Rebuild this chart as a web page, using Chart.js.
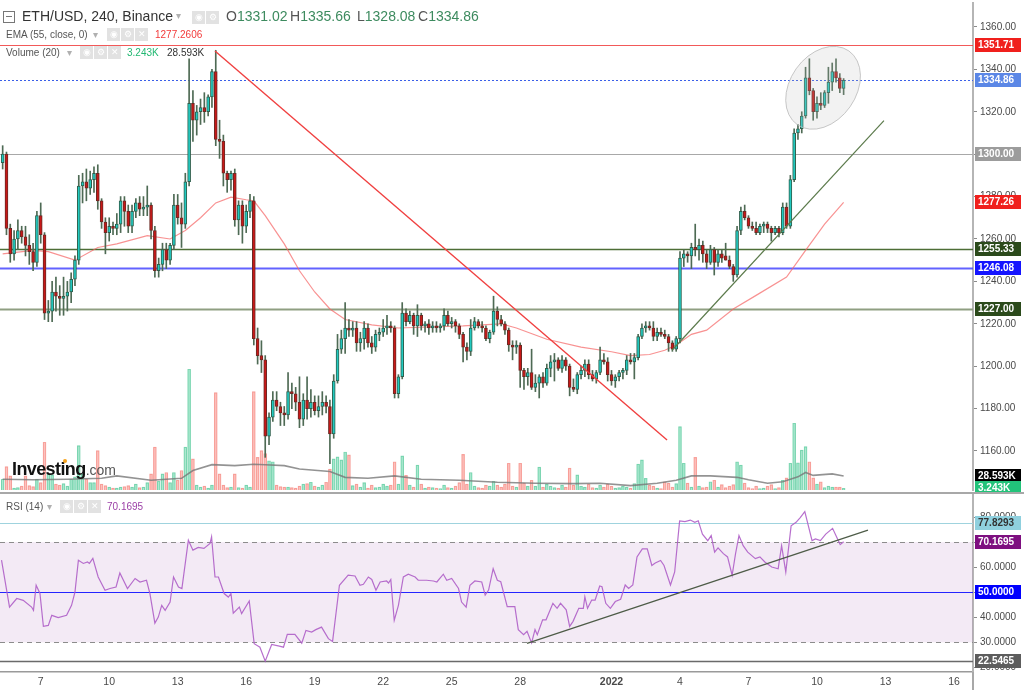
<!DOCTYPE html>
<html>
<head>
<meta charset="utf-8">
<script src="https://cdn.jsdelivr.net/npm/chart.js@4.4.0/dist/chart.umd.min.js"></script>
<style>
  body { margin:0; background:#fff; width:1024px; height:690px; overflow:hidden; position:relative;
         font-family:"Liberation Sans", Arial, sans-serif; }
  canvas { position:absolute; left:0; }
  #main { top:0; }
  #rsi { top:492px; }
  .t { position:absolute; white-space:nowrap; line-height:1; }
  .big { font-size:14px; color:#333; }
  .sm { font-size:10px; color:#555; }
  .car { color:#b0b0b0; font-size:10px; }
  .ic { position:absolute; width:13px; height:13px; background:#e2e2e2; color:#fff; font-size:9px;
        line-height:13px; text-align:center; }
  .g { color:#3d8b5f; }
  .k { color:#555; }
</style>
</head>
<body>
<canvas id="main" width="1024" height="492"></canvas>
<canvas id="rsi" width="1024" height="198"></canvas>

<!-- legend: price row -->
<div class="t" style="left:3px;top:11px;width:10px;height:10px;border:1px solid #777;"></div>
<div class="t" style="left:6px;top:16px;width:6px;height:1px;background:#777;"></div>
<div class="t big" style="left:22px;top:9px;">ETH/USD, 240, Binance</div>
<div class="t car" style="left:176px;top:11px;">▾</div>
<div class="ic" style="left:192px;top:11px;">◉</div>
<div class="ic" style="left:206px;top:11px;">⚙</div>
<div class="t big" style="left:226px;top:9px;"><span class="k">O</span><span class="g">1331.02</span></div>
<div class="t big" style="left:290px;top:9px;"><span class="k">H</span><span class="g">1335.66</span></div>
<div class="t big" style="left:357px;top:9px;"><span class="k">L</span><span class="g">1328.08</span></div>
<div class="t big" style="left:418px;top:9px;"><span class="k">C</span><span class="g">1334.86</span></div>

<!-- legend: EMA row -->
<div class="t sm" style="left:6px;top:30px;">EMA (55, close, 0)</div>
<div class="t car" style="left:93px;top:30px;">▾</div>
<div class="ic" style="left:107px;top:28px;">◉</div>
<div class="ic" style="left:121px;top:28px;">⚙</div>
<div class="ic" style="left:135px;top:28px;">✕</div>
<div class="t sm" style="left:155px;top:30px;color:#f23a3a;">1277.2606</div>

<!-- legend: volume row -->
<div class="t sm" style="left:6px;top:48px;">Volume (20)</div>
<div class="t car" style="left:67px;top:48px;">▾</div>
<div class="ic" style="left:80px;top:46px;">◉</div>
<div class="ic" style="left:94px;top:46px;">⚙</div>
<div class="ic" style="left:108px;top:46px;">✕</div>
<div class="t sm" style="left:127px;top:48px;color:#22b872;">3.243K</div>
<div class="t sm" style="left:167px;top:48px;color:#333;">28.593K</div>

<!-- watermark -->
<div class="t" style="left:12px;top:460px;font-size:18px;font-weight:bold;color:#111;letter-spacing:-0.6px;">Investing<span style="font-size:14px;font-weight:normal;color:#555;letter-spacing:0;">.com</span></div>
<div class="t" style="left:63px;top:459px;width:4px;height:4px;border-radius:2px;background:#f7a21b;"></div>

<!-- legend: RSI row -->
<div class="t sm" style="left:6px;top:502px;">RSI (14)</div>
<div class="t car" style="left:47px;top:502px;">▾</div>
<div class="ic" style="left:60px;top:500px;">◉</div>
<div class="ic" style="left:74px;top:500px;">⚙</div>
<div class="ic" style="left:88px;top:500px;">✕</div>
<div class="t sm" style="left:107px;top:502px;color:#9b3fa6;">70.1695</div>

<script>
// 4h candles, index 0 = Dec 5 08:00, index 10 = Dec 7 00:00
const opens = [
  1296,1300,1265,1253,1260,1264,1261,1257,1254,1249,
  1271,1262,1225,1226,1235,1233,1232,1233,1235,1241,
  1250,1285,1287,1284,1288,1291,1278,1268,1263,1266,
  1265,1267,1278,1273,1266,1273,1277,1274,1275,1276,
  1264,1245,1248,1255,1250,1257,1276,1270,1267,1287,
  1324,1316,1320,1322,1320,1327,1339,1307,1306,1291,
  1288,1291,1269,1276,1266,1273,1278,1213,1205,1203,
  1167,1176,1184,1181,1178,1177,1188,1187,1183,1175,
  1184,1180,1183,1179,1181,1183,1181,1168,1193,1208,
  1213,1218,1217,1218,1211,1213,1218,1211,1209,1215,
  1216,1218,1219,1218,1187,1195,1225,1221,1224,1219,
  1224,1219,1220,1218,1219,1218,1219,1224,1220,1221,
  1219,1215,1209,1207,1218,1221,1219,1218,1213,1216,
  1226,1222,1220,1217,1210,1209,1210,1198,1195,1197,
  1190,1192,1195,1192,1199,1202,1203,1199,1203,1200,
  1190,1189,1196,1198,1201,1196,1194,1197,1203,1202,
  1196,1193,1195,1197,1198,1203,1202,1204,1214,1218,
  1219,1218,1214,1216,1215,1214,1211,1208,1213,1251,
  1253,1252,1256,1255,1257,1253,1249,1255,1249,1253,
  1252,1250,1247,1243,1264,1273,1270,1266,1265,1263,
  1266,1267,1265,1263,1265,1263,1275,1266,1288,1310,
  1312,1318,1336,1330,1320,1324,1323,1329,1334,1339,
  1336,1331.02
];
const highs = [
  1304,1301,1267,1264,1269,1266,1266,1262,1258,1273,
  1277,1263,1231,1240,1242,1238,1242,1240,1244,1252,
  1290,1291,1293,1292,1294,1295,1279,1270,1270,1268,
  1272,1280,1280,1276,1276,1279,1280,1280,1285,1277,
  1266,1251,1258,1258,1258,1281,1281,1277,1291,1345,
  1330,1323,1326,1329,1328,1340,1349,1316,1309,1292,
  1292,1293,1278,1278,1276,1281,1280,1218,1212,1205,
  1178,1188,1188,1183,1181,1197,1192,1190,1195,1187,
  1195,1189,1186,1186,1188,1186,1184,1196,1215,1217,
  1230,1222,1221,1221,1216,1221,1220,1214,1217,1218,
  1222,1224,1221,1219,1196,1230,1227,1226,1225,1229,
  1225,1221,1222,1221,1221,1220,1227,1226,1223,1222,
  1220,1216,1211,1222,1223,1222,1221,1219,1217,1233,
  1228,1224,1221,1218,1212,1212,1211,1199,1199,1208,
  1196,1196,1197,1201,1205,1206,1204,1205,1204,1201,
  1194,1197,1200,1203,1203,1198,1198,1209,1206,1204,
  1198,1196,1198,1199,1205,1206,1206,1215,1220,1221,
  1221,1221,1218,1218,1217,1215,1212,1214,1254,1255,
  1254,1258,1267,1260,1259,1255,1257,1256,1255,1255,
  1258,1252,1248,1266,1275,1276,1271,1268,1268,1267,
  1268,1268,1266,1266,1266,1277,1277,1290,1312,1314,
  1320,1341,1345,1331,1327,1329,1330,1341,1343,1345,
  1338,1335.66
];
const lows = [
  1293,1262,1249,1250,1255,1258,1252,1248,1245,1247,
  1258,1222,1221,1221,1226,1224,1224,1226,1230,1238,
  1248,1277,1278,1281,1282,1274,1265,1253,1259,1262,
  1262,1263,1266,1263,1263,1270,1271,1271,1271,1260,
  1242,1242,1245,1246,1248,1255,1267,1256,1265,1285,
  1306,1309,1314,1315,1318,1322,1304,1298,1285,1282,
  1283,1266,1262,1258,1263,1270,1210,1201,1197,1157,
  1163,1174,1179,1172,1172,1175,1180,1179,1171,1172,
  1175,1176,1177,1176,1177,1178,1154,1166,1192,1206,
  1206,1214,1214,1207,1207,1208,1209,1206,1207,1212,
  1214,1215,1216,1185,1185,1194,1219,1220,1215,1214,
  1217,1216,1215,1216,1216,1216,1217,1219,1218,1216,
  1213,1202,1203,1205,1217,1218,1216,1212,1211,1215,
  1219,1219,1215,1207,1203,1206,1190,1189,1191,1189,
  1188,1185,1190,1191,1195,1193,1198,1197,1198,1186,
  1188,1187,1194,1195,1194,1193,1192,1196,1201,1193,
  1191,1190,1193,1194,1196,1201,1194,1203,1213,1216,
  1217,1212,1212,1214,1213,1207,1207,1207,1211,1247,
  1249,1246,1252,1250,1249,1246,1248,1243,1247,1249,
  1250,1246,1240,1242,1262,1269,1265,1264,1262,1262,
  1263,1263,1259,1262,1261,1262,1265,1265,1287,1307,
  1310,1317,1328,1316,1317,1321,1322,1324,1330,1334,
  1329,1328.08
];
const closes = [
  1300,1265,1253,1260,1264,1261,1257,1254,1249,1271,
  1262,1225,1226,1235,1233,1232,1233,1235,1241,1250,
  1285,1287,1284,1288,1291,1278,1268,1263,1266,1265,
  1267,1278,1273,1266,1273,1277,1274,1275,1276,1264,
  1245,1248,1255,1250,1257,1276,1270,1267,1287,1324,
  1316,1320,1322,1320,1327,1339,1307,1306,1291,1288,
  1291,1269,1276,1266,1273,1278,1213,1205,1203,1167,
  1176,1184,1181,1178,1177,1188,1187,1183,1175,1184,
  1180,1183,1179,1181,1183,1181,1168,1193,1208,1213,
  1218,1217,1218,1211,1213,1218,1211,1209,1215,1216,
  1218,1219,1218,1187,1195,1225,1221,1224,1219,1224,
  1219,1220,1218,1219,1218,1219,1224,1220,1221,1219,
  1215,1209,1207,1218,1221,1219,1218,1213,1216,1226,
  1222,1220,1217,1210,1209,1210,1198,1195,1197,1190,
  1192,1195,1192,1199,1202,1203,1199,1203,1200,1190,
  1189,1196,1198,1201,1196,1194,1197,1203,1202,1196,
  1193,1195,1197,1198,1203,1202,1204,1214,1218,1219,
  1218,1214,1216,1215,1214,1211,1208,1213,1251,1253,
  1252,1256,1255,1257,1253,1249,1255,1249,1253,1251,
  1250,1247,1243,1264,1273,1270,1266,1265,1263,1266,
  1267,1265,1263,1265,1263,1275,1266,1288,1310,1312,
  1318,1336,1330,1320,1324,1323,1329,1334,1339,1336,
  1331.02,1334.86
];
// volume in thousands
const volumes = [
  22,48,29,4,5,8,29,9,7,22,
  15,98,33,31,12,10,13,8,22,27,
  91,33,22,15,15,81,12,9,6,4,
  4,6,7,9,6,12,5,6,15,33,
  88,18,33,36,15,36,20,40,88,248,
  64,10,6,8,4,10,200,33,10,5,
  6,33,5,4,10,6,202,67,81,75,
  60,58,10,7,6,6,5,4,8,12,
  13,16,8,6,10,16,43,64,68,62,
  78,72,9,12,6,15,4,10,5,6,
  12,8,10,58,12,70,30,10,6,51,
  12,4,6,5,4,3,10,5,4,8,
  15,73,12,36,8,5,4,10,8,18,
  10,6,12,55,8,6,55,14,8,20,
  8,47,6,12,8,5,4,10,6,45,
  10,31,8,6,12,5,4,10,6,12,
  8,4,5,8,6,4,13,53,62,24,
  10,8,4,3,17,14,6,13,130,55,
  14,6,67,8,5,6,17,20,6,11,
  5,8,11,58,51,14,5,3,8,3,
  4,8,11,3,5,20,25,55,137,56,
  82,89,58,25,12,17,5,8,6,6,
  6,3.243
];
// volume MA(20), read at candle positions
const volMaAt = [0,8,17,26,30,39,47,50,55,61,66,69,74,78,86,90,96,103,110,120,130,140,150,157,165,172,177,181,186,193,196,201,205,209,211,213,218,221];
const volMaValues = [22,21,22,24,29,20,24,40,52,50,53,52,50,43,38,26,24,29,22,20,16,14,13,14,9,14,20,29,29,26,21,14,17,27,36,30,33,28.593];
// EMA(55), read at candle positions
const emaAt = [0,8,12,19,25,30,38,44,48,52,56,60,64,66,69,74,78,82,86,90,97,104,121,131,135,143,152,160,165,170,174,177,181,185,192,198,206,211,216,221];
const emaValues = [1253,1254.6,1254,1250,1256,1257.7,1261.6,1260,1264,1270,1277,1279.7,1278.5,1278,1271,1257.7,1245,1235,1227,1222,1219.5,1218,1219,1220,1218,1212.7,1209,1206.8,1205,1205.5,1207.5,1210,1215,1217,1227,1233.4,1242,1254.6,1267,1277.26];
// RSI(14)
const rsiAt = [-0.3,1.8,3.7,5.4,7.6,8.1,8.8,9.8,10.7,12,12.9,14.6,16.8,18.1,19,19.9,21.2,22.3,22.8,23.7,25.1,26.9,28.2,29.8,30.8,32.8,34.8,36.1,37.8,38.7,40,40.9,41.8,42.7,44,44.9,46.2,47.1,48.8,50,51.4,52.9,54.5,54.9,55.8,56.7,58.2,59.3,60,60.6,62.2,62.8,64.8,66.1,67.2,67.6,69,70.7,72.7,73.8,74.8,76.8,78.6,79.7,81.2,82.3,83.8,85.6,86.7,88.5,90.8,92.6,93.9,94.8,96.1,97,98.1,99.2,100.9,101.4,102,102.9,104,105.3,106.6,108.4,109.2,111.4,113.2,114.1,115.8,116.7,118,119.8,120.6,121.8,122.8,124.1,125.9,126.8,127.7,128.9,130,130.9,132.6,134.6,135.5,136.9,137.8,139,139.9,140.5,141.9,142.8,144.6,145.7,146.6,148.1,149,149.9,151.4,152.6,153,153.7,154.8,155.7,156.9,157.5,158.5,159.7,161,162.4,163.6,164.5,165.6,166.7,168.1,169.4,170.6,171.5,172.9,173.8,175.5,176.6,177.9,179.3,180.7,181.9,182.8,183.9,185.3,186.2,187.1,188,189.4,190.5,191.7,192.6,193.5,194.6,195.8,197.8,199,200.3,202.1,203.8,204.7,205.8,207.2,208.5,209.6,210.8,212.7,213.6,214.9,216.3,218.1,219.1,220.1,221];
const rsiValues = [62.8,44.1,47.5,46.8,44.1,42.8,52.8,49.5,36.4,36.8,40.8,39.9,40.8,44.8,50.1,62.8,61.5,62.1,61.5,63.5,56.1,50.8,51.5,52.1,57.7,51.5,55.5,54.1,54.8,49.5,37.7,40.1,44.8,42.8,46.1,56.1,52.1,51.5,70.8,66.8,67.9,67.5,69.5,72.1,56.1,56.1,49.5,48.1,49.5,41.7,44.1,41.5,46.5,29.5,28.5,28.1,22.55,29.2,28.5,28.1,33.2,33.2,29.7,34.8,34.1,35.1,36.1,31.5,30.4,52.8,56.8,56.5,52.8,53.2,56.1,55.1,50.8,54.1,54.5,53.7,55.1,38.8,44.8,56.1,57.2,56.1,54.8,54.8,54.5,54.1,57.2,54.8,55.5,51.5,46.1,44.1,52.8,54.5,54.1,48.9,50.9,59.4,54.8,54.2,44.3,44.3,35.1,33.1,34.4,29.8,35.1,33.1,39,39,45.6,43.6,45.6,43,36.4,38.4,43.6,43.6,48.2,43.6,46.9,46.9,52.5,52.2,45.6,43.6,46.3,47.2,52.9,51.5,52.9,64.1,67.3,67.3,60.7,61.7,62.7,60.7,52.9,58.1,78.5,78.2,78.8,77.9,78.5,73.2,70.6,72.6,66,67.7,65.4,64.1,56.8,65.4,72.6,68.6,66,63.4,64.1,62.1,60.1,59.4,68.6,58.1,76.5,77.9,79.8,82.2,70.6,71.3,70.6,73.2,75.5,72.2,69,70.17];

// date ticks (candle index of the 00:00 bar)
const dayTickAt = [10,28,46,64,82,100,118,136,160,178,196,214,232,250];
const dayTickLabels = ['7','10','13','16','19','22','25','28','2022','4','7','10','13','16'];

// drawn levels and lines
const levelPrices = [1351.71, 1334.86, 1300.00, 1255.33, 1246.08, 1227.00];
const emaLast = 1277.26;
const volLast = 3.243, volMaLast = 28.593;
const fallLine = [[55.8, 1348.7], [174.6, 1165.2]];
const riseLine = [[175.9, 1207.5], [231.6, 1315.8]];
const circleAt = [215.6, 1331.3];
const rsiBand = [30, 70];
const rsiMid = 50;
const rsiHigh = 77.8293, rsiLow = 22.5465, rsiLast = 70.1695;
const rsiTrend = [[137.8, 29.6], [227.4, 74.8]];

const FONT = '"Liberation Sans", Arial, sans-serif';
Chart.defaults.font.family = FONT;
const xMin = -0.7, xMax = 255.0;

const up = closes.map((c, i) => c >= opens[i]);

// keep the plot area exactly where the panel is: no label overflow padding
function fixPad(s) {
  s.paddingTop = 0; s.paddingBottom = 0; s.paddingLeft = 0; s.paddingRight = 0;
}

function tag(ctx, x0, y, text, bg, fg) {
  const yy = Math.round(y);
  ctx.save();
  ctx.fillStyle = bg;
  ctx.fillRect(x0, yy - 7, 46, 14);
  ctx.fillStyle = fg;
  ctx.font = 'bold 10px ' + FONT;
  ctx.textBaseline = 'middle';
  ctx.fillText(text, x0 + 3, yy + 0.5);
  ctx.restore();
}

function hline(ctx, a, py, color, width, dash) {
  ctx.save();
  ctx.strokeStyle = color;
  ctx.lineWidth = width;
  ctx.setLineDash(dash || []);
  const yy = Math.round(py) + 0.5;
  ctx.beginPath(); ctx.moveTo(a.left, yy); ctx.lineTo(a.right, yy); ctx.stroke();
  ctx.restore();
}

function seg(ctx, x, y, pts, color, width) {
  ctx.save();
  ctx.strokeStyle = color;
  ctx.lineWidth = width;
  ctx.beginPath();
  ctx.moveTo(x.getPixelForValue(pts[0][0]), y.getPixelForValue(pts[0][1]));
  ctx.lineTo(x.getPixelForValue(pts[1][0]), y.getPixelForValue(pts[1][1]));
  ctx.stroke();
  ctx.restore();
}

const levelColors = ['rgba(240,60,60,0.85)', '#3a5ee8', '#a8a8a8', '#4d6e36', 'rgba(70,70,255,0.85)', '#8f9f82'];
const levelWidths = [1.2, 1, 1.2, 1.3, 1.8, 1.8];
const levelDashes = [[], [2, 2], [], [], [], []];
const levelTags = [['#f0201d', '#fff'], ['#5b87e6', '#fff'], ['#9c9c9c', '#fff'], ['#2b4a1b', '#fff'], ['#1414ff', '#fff'], ['#2b4a1b', '#fff']];

const mainDecor = {
  id: 'mainDecor',
  beforeDatasetsDraw(chart) {
    const { ctx, chartArea: a, scales: { y } } = chart;
    levelPrices.forEach((p, k) => hline(ctx, a, y.getPixelForValue(p), levelColors[k], levelWidths[k], levelDashes[k]));
  },
  afterDatasetsDraw(chart) {
    const { ctx, scales: { x, y } } = chart;
    seg(ctx, x, y, fallLine, '#f04040', 1.4);
    seg(ctx, x, y, riseLine, '#5b7a4b', 1.2);
    ctx.save();
    ctx.beginPath();
    ctx.ellipse(x.getPixelForValue(circleAt[0]), y.getPixelForValue(circleAt[1]), 45, 33, -55 * Math.PI / 180, 0, Math.PI * 2);
    ctx.fillStyle = 'rgba(190,190,190,0.2)';
    ctx.fill();
    ctx.strokeStyle = 'rgba(185,185,185,0.8)';
    ctx.lineWidth = 1;
    ctx.stroke();
    ctx.restore();
  },
  afterDraw(chart) {
    const { ctx, chartArea: a, scales: { y, yVol } } = chart;
    const x0 = a.right + 2;
    levelPrices.forEach((p, k) => tag(ctx, x0, y.getPixelForValue(p), p.toFixed(2), levelTags[k][0], levelTags[k][1]));
    tag(ctx, x0, y.getPixelForValue(emaLast), emaLast.toFixed(2), '#f0201d', '#fff');
    tag(ctx, x0, yVol.getPixelForValue(volMaLast), volMaLast.toFixed(3) + 'K', '#000', '#fff');
    tag(ctx, x0, yVol.getPixelForValue(volLast), volLast.toFixed(3) + 'K', '#22c37a', '#fff');
  }
};

new Chart(document.getElementById('main'), {
  type: 'bar',
  data: {
    datasets: [
      {
        type: 'bar', label: 'Volume', yAxisID: 'yVol', order: 5, grouped: false, barThickness: 3,
        data: volumes.map((v, i) => ({ x: i, y: v })),
        backgroundColor: up.map(u => u ? 'rgba(70,205,150,0.45)' : 'rgba(248,120,110,0.45)'),
        borderColor: up.map(u => u ? 'rgba(50,185,130,0.55)' : 'rgba(240,110,100,0.55)'),
        borderWidth: 0.5
      },
      {
        type: 'line', label: 'Volume MA', yAxisID: 'yVol', order: 4,
        data: volMaAt.map((x, k) => ({ x, y: volMaValues[k] })),
        borderColor: 'rgba(120,120,120,0.8)', borderWidth: 1.6, pointRadius: 0
      },
      {
        type: 'line', label: 'EMA', yAxisID: 'y', order: 3,
        data: emaAt.map((x, k) => ({ x, y: emaValues[k] })),
        borderColor: 'rgba(245,100,100,0.7)', borderWidth: 1.2, pointRadius: 0
      },
      {
        type: 'bar', label: 'Wick', yAxisID: 'y', order: 2, grouped: false, barThickness: 1,
        data: lows.map((l, i) => ({ x: i, y: [l, highs[i]] })),
        backgroundColor: '#4e6a54'
      },
      {
        type: 'bar', label: 'Body', yAxisID: 'y', order: 1, grouped: false, barThickness: 3, minBarLength: 1,
        data: opens.map((o, i) => ({ x: i, y: [o, closes[i]] })),
        backgroundColor: up.map(u => u ? '#22c9c0' : '#c81818'),
        borderColor: up.map(u => u ? '#2e5f4c' : '#6a2a24'),
        borderWidth: 1, borderSkipped: false
      }
    ]
  },
  options: {
    responsive: false, animation: false, events: [],
    layout: { padding: { top: 3, bottom: 2, left: 0, right: 0 } },
    plugins: { legend: { display: false }, tooltip: { enabled: false } },
    scales: {
      x: { type: 'linear', min: xMin, max: xMax, offset: false, display: false },
      y: {
        position: 'right', min: 1141.6, max: 1371.3,
        grid: { drawOnChartArea: false, drawTicks: true, tickLength: 4, color: '#8a8a8a' },
        border: { display: true, color: '#b5b5b5', width: 2 },
        ticks: { stepSize: 20, includeBounds: false, color: '#4a4a4a', font: { size: 10 }, padding: 3,
                 callback: v => v.toFixed(2) },
        afterFit(s) { s.width = 51; fixPad(s); }
      },
      yVol: { display: false, min: 0, max: 1000 }
    }
  },
  plugins: [mainDecor]
});

const rsiDecor = {
  id: 'rsiDecor',
  beforeDatasetsDraw(chart) {
    const { ctx, chartArea: a, scales: { y } } = chart;
    const yTop = y.getPixelForValue(rsiBand[1]), yBot = y.getPixelForValue(rsiBand[0]);
    ctx.save();
    ctx.fillStyle = 'rgba(160,80,175,0.12)';
    ctx.fillRect(a.left, yTop, a.right - a.left, yBot - yTop);
    ctx.restore();
    hline(ctx, a, yTop, '#8c8c8c', 1, [5, 4]);
    hline(ctx, a, yBot, '#8c8c8c', 1, [5, 4]);
    hline(ctx, a, y.getPixelForValue(rsiMid), '#2424ff', 1.2);
    hline(ctx, a, y.getPixelForValue(rsiHigh), '#9fd3de', 1.2);
    hline(ctx, a, y.getPixelForValue(rsiLow), '#6a6a6a', 1.6);
  },
  afterDatasetsDraw(chart) {
    const { ctx, scales: { x, y } } = chart;
    seg(ctx, x, y, rsiTrend, '#4e5c48', 1.3);
  },
  afterDraw(chart) {
    const { ctx, chartArea: a, scales: { y } } = chart;
    ctx.save();
    ctx.fillStyle = '#a8a8a8';
    ctx.fillRect(0, 0, chart.width, 2);
    ctx.fillRect(a.right - 1, a.bottom, 2, chart.height - a.bottom);
    ctx.restore();
    const x0 = a.right + 2;
    tag(ctx, x0, y.getPixelForValue(rsiHigh), rsiHigh.toFixed(4), '#8fd0de', '#333');
    tag(ctx, x0, y.getPixelForValue(rsiLast), rsiLast.toFixed(4), '#7e0f80', '#fff');
    tag(ctx, x0, y.getPixelForValue(rsiMid), rsiMid.toFixed(4), '#0000ff', '#fff');
    tag(ctx, x0, y.getPixelForValue(rsiLow), rsiLow.toFixed(4), '#5d5d5d', '#fff');
  }
};

new Chart(document.getElementById('rsi'), {
  type: 'line',
  data: {
    datasets: [{
      label: 'RSI',
      data: rsiAt.map((x, k) => ({ x, y: rsiValues[k] })),
      borderColor: 'rgba(175,95,200,0.9)', borderWidth: 1.2, pointRadius: 0
    }]
  },
  options: {
    responsive: false, animation: false, events: [],
    layout: { padding: { top: 2, bottom: 0, left: 0, right: 0 } },
    plugins: { legend: { display: false }, tooltip: { enabled: false } },
    scales: {
      x: {
        type: 'linear', min: xMin, max: xMax, offset: false,
        grid: { display: false, drawTicks: false },
        border: { display: true, color: '#9a9a9a', width: 1.5 },
        ticks: {
          autoSkip: false, maxRotation: 0, padding: 4, color: '#4a4a4a',
          font: c => ({ size: 10.5, weight: (c.tick && c.tick.value === 160) ? 'bold' : 'normal' }),
          callback: v => dayTickLabels[dayTickAt.indexOf(v)]
        },
        afterBuildTicks(s) { s.ticks = dayTickAt.map(v => ({ value: v })); },
        afterFit(s) { s.height = 18; fixPad(s); }
      },
      y: {
        position: 'right', min: 18.2, max: 89.2,
        grid: { drawOnChartArea: false, drawTicks: true, tickLength: 4, color: '#8a8a8a' },
        border: { display: true, color: '#b5b5b5', width: 2 },
        ticks: { stepSize: 10, includeBounds: false, color: '#4a4a4a', font: { size: 10 }, padding: 3,
                 callback: v => v.toFixed(4) },
        afterFit(s) { s.width = 51; fixPad(s); }
      }
    }
  },
  plugins: [rsiDecor]
});
</script>
</body>
</html>
